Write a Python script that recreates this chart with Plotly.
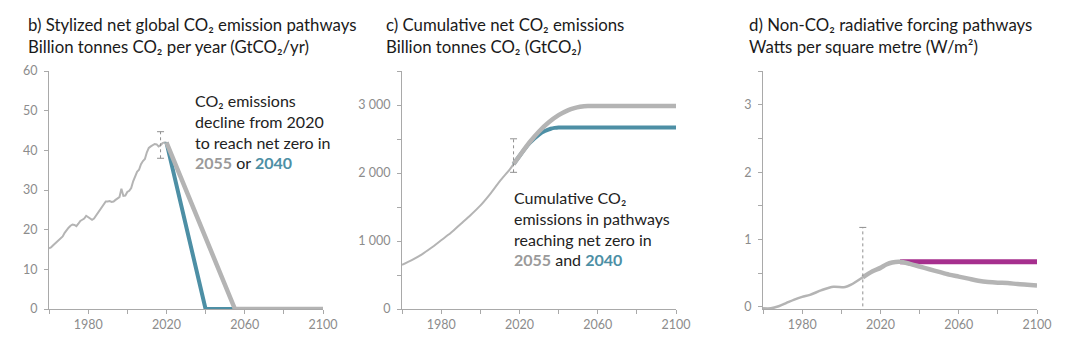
import plotly.graph_objects as go

# ---------------- data ----------------
# b) historical net global CO2 emissions (GtCO2/yr), 1960-2020
hist_years = list(range(1960, 2021))
hist_emissions = [
    15.3, 15.5, 16.0, 16.5, 17.0, 17.3, 17.8, 18.3, 19.2, 20.0,
    20.5, 21.0, 21.3, 21.2, 20.9, 21.5, 22.2, 22.5, 22.8, 23.5,
    23.2, 22.7, 22.5, 22.8, 23.5, 24.2, 24.9, 25.6, 26.5, 27.1,
    27.1, 27.2, 27.0, 27.1, 27.5, 27.9, 28.2, 30.3, 28.5, 28.6,
    29.5, 29.8, 30.5, 32.2, 33.3, 34.6, 35.1, 36.5, 37.3, 37.8,
    39.5, 40.6, 41.0, 41.3, 41.6, 41.5, 41.0, 41.3, 41.8, 42.0,
    42.0,
]
# stylized pathways reaching net zero in 2055 (grey) and 2040 (blue)
path55_years = [2020, 2055, 2100]
path55_emissions = [42.0, 0.0, 0.0]
path40_years = [2020, 2040, 2100]
path40_emissions = [42.0, 0.0, 0.0]
# uncertainty range around present-day emissions
emis_range_year = [2017, 2017]
emis_range = [38.0, 44.7]

# c) cumulative net CO2 emissions (GtCO2)
cum_hist_years = [1960, 1965, 1970, 1975, 1980, 1985, 1990, 1995, 2000, 2005, 2010, 2015, 2017]
cum_hist = [650, 720, 800, 900, 1010, 1120, 1250, 1380, 1520, 1690, 1880, 2050, 2130]
cum55_years = [2017, 2020, 2025, 2030, 2035, 2040, 2045, 2048, 2051, 2053, 2055,
               2057, 2060, 2080, 2100]
cum55 = [2130, 2250, 2445, 2610, 2745, 2850, 2925, 2954, 2974, 2982, 2985,
         2985, 2985, 2985, 2985]
cum40_years = [2017, 2020, 2025, 2030, 2033, 2036, 2038, 2040, 2042, 2045,
               2060, 2080, 2100]
cum40 = [2130, 2250, 2434, 2565, 2617, 2651, 2664, 2670, 2670, 2670,
         2670, 2670, 2670]
cum_range_year = [2017, 2017]
cum_range = [2010, 2503]

# d) non-CO2 radiative forcing (W/m2)
rf_hist_years = [1960, 1964, 1968, 1972, 1976, 1980, 1984, 1990, 1996, 2002, 2005, 2011]
rf_hist = [-0.02, -0.02, 0.01, 0.06, 0.11, 0.15, 0.18, 0.25, 0.30, 0.295, 0.33, 0.44]
rf_red_years = [2011, 2016, 2020, 2023, 2026, 2030, 2035, 2040, 2045, 2050, 2055,
                2060, 2065, 2070, 2075, 2080, 2085, 2090, 2095, 2100]
rf_red = [0.44, 0.53, 0.58, 0.63, 0.66, 0.67, 0.64, 0.60, 0.56, 0.52, 0.48,
          0.45, 0.42, 0.39, 0.37, 0.36, 0.355, 0.34, 0.33, 0.32]
rf_const_years = [2030, 2100]
rf_const = [0.67, 0.67]
rf_range_year = [2011, 2011]
rf_range = [-0.08, 1.18]

x_tickvals = [1960, 1980, 2000, 2020, 2040, 2060, 2080, 2100]
x_ticktext = ["", "1980", "", "2020", "", "2060", "", "2100"]
b_ticks = [0, 10, 20, 30, 40, 50, 60]
c_tickvals = [0, 500, 1000, 1500, 2000, 2500, 3000, 3500]
c_ticktext = ["0", "", "1 000", "", "2 000", "", "3 000", ""]
d_tickvals = [0, 0.5, 1, 1.5, 2, 2.5, 3, 3.5]
d_ticktext = ["0", "", "1", "", "2", "", "3", ""]

# ---------------- style ----------------
GREY = "#b4b4b4"
BLUE = "#4d8fa5"
PURPLE = "#a62f8e"
AXIS = "#a9a9a9"
TICKFONT = "#8c8c8c"
FONT = "Lato"
W, H = 1080, 342


def fx(p):
    return p / W


def fy(p):
    return 1 - p / H


fig = go.Figure()


def line(x, y, color, width, axes, shape="linear", dash="solid"):
    fig.add_trace(go.Scatter(
        x=x, y=y, mode="lines", xaxis=axes[0], yaxis=axes[1],
        line=dict(color=color, width=width, shape=shape, dash=dash,
                  smoothing=0.8 if shape == "spline" else None),
        hoverinfo="skip", showlegend=False))


def range_bar(x, y, axes):
    fig.add_trace(go.Scatter(
        x=x, y=y, mode="lines+markers", xaxis=axes[0], yaxis=axes[1],
        line=dict(color="#8f8f8f", width=1, dash="dot"),
        marker=dict(symbol="line-ew", size=5, line=dict(color="#8f8f8f", width=1)),
        hoverinfo="skip", showlegend=False, cliponaxis=False))


# b) emissions
line(hist_years, hist_emissions, GREY, 2, ("x", "y"))
line(path40_years, path40_emissions, BLUE, 4, ("x", "y"))
line(path55_years, path55_emissions, GREY, 4.5, ("x", "y"))
range_bar(emis_range_year, emis_range, ("x", "y"))

# c) cumulative
line(cum_hist_years, cum_hist, GREY, 2, ("x2", "y2"), shape="spline")
line(cum40_years, cum40, BLUE, 4, ("x2", "y2"), shape="spline")
line(cum55_years, cum55, GREY, 4.5, ("x2", "y2"), shape="spline")
range_bar(cum_range_year, cum_range, ("x2", "y2"))

# d) non-CO2 forcing
line(rf_hist_years, rf_hist, GREY, 2.5, ("x3", "y3"), shape="spline")
line(rf_const_years, rf_const, PURPLE, 5, ("x3", "y3"))
line(rf_red_years, rf_red, GREY, 4.5, ("x3", "y3"), shape="spline")
range_bar(rf_range_year, rf_range, ("x3", "y3"))

common_x = dict(
    range=[1960, 2100], tickvals=x_tickvals, ticktext=x_ticktext,
    showline=True, linecolor=AXIS, linewidth=1, ticks="outside", ticklen=4,
    tickcolor=AXIS, tickwidth=1, showgrid=False, zeroline=False, automargin=False,
    tickfont=dict(family=FONT, size=12.5, color=TICKFONT), fixedrange=True,
)
common_y = dict(
    showline=True, linecolor=AXIS, linewidth=1, ticks="outside", ticklen=4,
    tickcolor=AXIS, tickwidth=1, showgrid=False, zeroline=False, automargin=False,
    tickfont=dict(family=FONT, size=12.5, color=TICKFONT), fixedrange=True,
    ticklabelstandoff=4,
)

y_dom = [fy(309), fy(71)]
fig.update_layout(
    width=W, height=H,
    margin=dict(l=0, r=0, t=0, b=0, autoexpand=False),
    paper_bgcolor="white", plot_bgcolor="white",
    font=dict(family=FONT),
    xaxis=dict(domain=[fx(49), fx(323)], anchor="y", **common_x),
    yaxis=dict(domain=y_dom, anchor="x", range=[0, 60], tickvals=b_ticks, **common_y),
    xaxis2=dict(domain=[fx(402), fx(676)], anchor="y2", **common_x),
    yaxis2=dict(domain=y_dom, anchor="x2", range=[0, 3500], tickvals=c_tickvals,
                ticktext=c_ticktext, **common_y),
    xaxis3=dict(domain=[fx(763), fx(1037)], anchor="y3", **common_x),
    yaxis3=dict(domain=y_dom, anchor="x3", range=[-0.03, 3.5], tickvals=d_tickvals,
                ticktext=d_ticktext, **common_y),
)

TITLE_FONT = dict(family=FONT, size=16.8, color="#1a1a1a")
titles = [
    (26, "b) Stylized net global CO₂ emission pathways<br>Billion tonnes CO₂ per year (GtCO₂/yr)"),
    (384, "c) Cumulative net CO₂ emissions<br>Billion tonnes CO₂ (GtCO₂)"),
    (747, "d) Non-CO₂ radiative forcing pathways<br>Watts per square metre (W/m²)"),
]
for x0, txt in titles:
    fig.add_annotation(x=fx(x0), y=fy(12), xref="paper", yref="paper",
                       xanchor="left", yanchor="top", align="left",
                       text=txt, showarrow=False, font=TITLE_FONT)

NOTE_FONT = dict(family=FONT, size=16, color="#222222")
g55 = f"<b><span style='color:#9a9a9a'>2055</span></b>"
b40 = f"<b><span style='color:{BLUE}'>2040</span></b>"
fig.add_annotation(x=fx(193), y=fy(89), xref="paper", yref="paper",
                   xanchor="left", yanchor="top", align="left", showarrow=False,
                   text=f"CO₂ emissions<br>decline from 2020<br>to reach net zero in<br>{g55} or {b40}",
                   font=NOTE_FONT)
fig.add_annotation(x=fx(512), y=fy(186), xref="paper", yref="paper",
                   xanchor="left", yanchor="top", align="left", showarrow=False,
                   text=f"Cumulative CO₂<br>emissions in pathways<br>reaching net zero in<br>{g55} and {b40}",
                   font=NOTE_FONT)

fig.write_html("out.html")
